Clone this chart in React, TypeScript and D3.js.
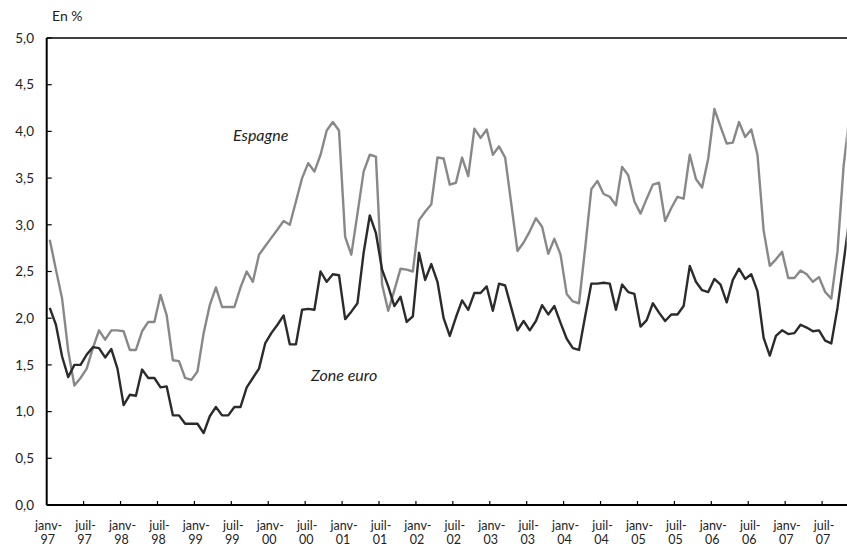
import { useMemo } from 'react'
import { line, scaleLinear } from 'd3'

// monthly, janv-97 .. nov-07
const espagne = [
  2.84, 2.52, 2.21, 1.65, 1.28, 1.36, 1.46, 1.68, 1.87, 1.77, 1.87, 1.87,
  1.86, 1.66, 1.66, 1.86, 1.96, 1.96, 2.25, 2.03, 1.55, 1.54, 1.36, 1.34,
  1.43, 1.84, 2.14, 2.33, 2.12, 2.12, 2.12, 2.33, 2.5, 2.39, 2.68, 2.77,
  2.86, 2.95, 3.04, 3.0, 3.25, 3.5, 3.66, 3.57, 3.75, 4.01, 4.1, 4.01,
  2.87, 2.68, 3.12, 3.57, 3.75, 3.73, 2.36, 2.08, 2.3, 2.53, 2.52, 2.5,
  3.05, 3.14, 3.22, 3.72, 3.71, 3.43, 3.45, 3.72, 3.52, 4.03, 3.93, 4.02,
  3.75, 3.84, 3.72, 3.22, 2.72, 2.81, 2.93, 3.07, 2.98, 2.69, 2.85, 2.68,
  2.26, 2.18, 2.16, 2.75, 3.38, 3.47, 3.33, 3.3, 3.21, 3.62, 3.53, 3.25,
  3.12, 3.28, 3.43, 3.45, 3.04, 3.18, 3.3, 3.28, 3.75, 3.49, 3.4, 3.71,
  4.24, 4.05, 3.87, 3.88, 4.1, 3.94, 4.02, 3.75, 2.94, 2.56, 2.63, 2.71,
  2.43, 2.43, 2.51, 2.47, 2.39, 2.44, 2.28, 2.21, 2.71, 3.63, 4.2,
]

const zoneEuro = [
  2.11, 1.93, 1.59, 1.37, 1.5, 1.5, 1.61, 1.69, 1.68, 1.58, 1.67, 1.46,
  1.07, 1.18, 1.17, 1.45, 1.36, 1.36, 1.26, 1.27, 0.96, 0.96, 0.87, 0.87,
  0.87, 0.77, 0.95, 1.05, 0.96, 0.96, 1.05, 1.05, 1.26, 1.36, 1.46, 1.73,
  1.84, 1.93, 2.03, 1.72, 1.72, 2.09, 2.1, 2.09, 2.5, 2.39, 2.47, 2.46,
  1.99, 2.07, 2.16, 2.7, 3.1, 2.91, 2.52, 2.34, 2.13, 2.23, 1.96, 2.02,
  2.7, 2.41, 2.58, 2.39, 2.0, 1.81, 2.01, 2.19, 2.09, 2.27, 2.27, 2.34,
  2.08, 2.37, 2.35, 2.11, 1.87, 1.97, 1.87, 1.97, 2.14, 2.04, 2.13, 1.95,
  1.78, 1.68, 1.66, 2.02, 2.37, 2.37, 2.38, 2.37, 2.09, 2.36, 2.28, 2.26,
  1.91, 1.98, 2.16, 2.06, 1.97, 2.04, 2.04, 2.13, 2.56, 2.39, 2.3, 2.28,
  2.42, 2.36, 2.17, 2.41, 2.53, 2.42, 2.47, 2.29, 1.79, 1.6, 1.81, 1.87,
  1.83, 1.84, 1.93, 1.9, 1.86, 1.87, 1.76, 1.73, 2.11, 2.6, 3.1,
]

const xTickLabels = [
  'janv-97', 'juil-97', 'janv-98', 'juil-98', 'janv-99', 'juil-99',
  'janv-00', 'juil-00', 'janv-01', 'juil-01', 'janv-02', 'juil-02',
  'janv-03', 'juil-03', 'janv-04', 'juil-04', 'janv-05', 'juil-05',
  'janv-06', 'juil-06', 'janv-07', 'juil-07',
]

const yTicks = [0, 0.5, 1, 1.5, 2, 2.5, 3, 3.5, 4, 4.5, 5]

const W = 847
const H = 560
const left = 46.7
const right = 846.7
const top = 38
const bottom = 505
const nCats = 130
const FONT = 'Lato, "Open Sans", sans-serif'

export default function App() {
  const x = useMemo(() => scaleLinear().domain([0, nCats]).range([left, right]), [])
  const y = useMemo(() => scaleLinear().domain([0, 5]).range([bottom, top]), [])

  const gen = line<number>()
    .x((_, i) => x(i + 0.5))
    .y((v) => y(v))

  return (
    <svg
      width={W}
      height={H}
      style={{ position: 'absolute', left: 0, top: 0, background: '#fff' }}
      fontFamily={FONT}
    >
      <defs>
        <clipPath id="plot">
          <rect x={left} y={0} width={right - left} height={H} />
        </clipPath>
      </defs>

      <text x={52} y={21} fontSize={14} fill="#222">En %</text>

      {/* y axis */}
      {yTicks.map((t) => (
        <g key={t}>
          <line x1={left} x2={left + 5} y1={y(t)} y2={y(t)} stroke="#000" strokeWidth={1.2} />
          <text x={34} y={y(t)} dy="0.35em" textAnchor="end" fontSize={13.5} fill="#222">
            {t.toFixed(1).replace('.', ',')}
          </text>
        </g>
      ))}

      {/* x axis */}
      {xTickLabels.map((lab, k) => {
        const xp = x(k * 6)
        const [m, yr] = lab.split('-')
        return (
          <g key={lab}>
            {k > 0 && (
              <line x1={xp} x2={xp} y1={bottom} y2={bottom - 4} stroke="#000" strokeWidth={1.2} />
            )}
            <text x={xp + 2} y={530} textAnchor="middle" fontSize={12.5} fill="#222">
              {m + '-'}
            </text>
            <text x={xp + 1} y={544} textAnchor="middle" fontSize={12.5} fill="#222">
              {yr}
            </text>
          </g>
        )
      })}

      <g clipPath="url(#plot)">
        <path d={gen(espagne) ?? ''} fill="none" stroke="#888" strokeWidth={2.4} strokeLinejoin="round" />
        <path d={gen(zoneEuro) ?? ''} fill="none" stroke="#2b2b2b" strokeWidth={2.4} strokeLinejoin="round" />
      </g>

      <line x1={left} x2={W} y1={top} y2={top} stroke="#000" strokeWidth={1.5} />
      <line x1={left} x2={W} y1={bottom} y2={bottom} stroke="#000" strokeWidth={2} />
      <line x1={left} x2={left} y1={top} y2={bottom} stroke="#000" strokeWidth={2} />

      <text x={233} y={141} fontSize={16} fontStyle="italic" fill="#222">Espagne</text>
      <text x={311} y={381} fontSize={16} fontStyle="italic" fill="#222">Zone euro</text>
    </svg>
  )
}
